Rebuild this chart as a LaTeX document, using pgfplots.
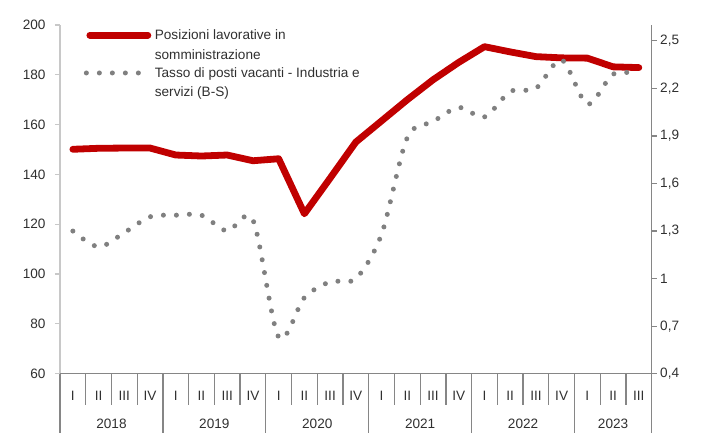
\documentclass[border=0pt]{standalone}
\usepackage{fontspec}
\setmainfont{Liberation Sans}
\usepackage{pgfplots}
\usepackage{pgfplotstable}
\pgfplotsset{compat=1.18}
\definecolor{myred}{HTML}{C00000}
\definecolor{dotgray}{HTML}{808080}
\definecolor{axgray}{HTML}{868686}
\definecolor{lightax}{HTML}{C8C8C8}
\definecolor{txt}{HTML}{303030}
\pgfplotsset{redleg/.style={legend image code/.code={\draw[##1] (3.5pt,10pt) -- (61.5pt,10pt);}}}

\pgfplotstableread{
x val
0 150.1
1 150.5
2 150.6
3 150.6
4 147.8
5 147.4
6 147.8
7 145.5
8 146.3
9 124.2
10 138.5
11 153.0
12 161.5
13 170.0
14 178.0
15 185.0
16 191.3
17 189.2
18 187.3
19 186.8
20 186.7
21 183.2
22 182.9
}\redtab

\pgfplotstableread{
x val
0 1.30
1 1.20
2 1.29
3 1.39
4 1.40
5 1.40
6 1.30
7 1.37
8 0.63
9 0.88
10 0.98
11 1.00
12 1.28
13 1.89
14 1.99
15 2.08
16 2.02
17 2.18
18 2.20
19 2.38
20 2.10
21 2.29
22 2.29
}\graytab

\begin{document}
\begin{tikzpicture}
\tikzset{dotline/.style={dotgray, line width=5pt, line cap=round, dash pattern=on 0pt off 13pt}}
\begin{axis}[
  at={(0pt,0pt)}, anchor=south west,
  scale only axis, width=591.7pt, height=348.7pt,
  xmin=-0.5, xmax=22.5, ymin=60, ymax=200,
  axis x line*=bottom, axis y line*=left,
  x axis line style={-, draw=axgray, line width=1.3pt},
  y axis line style={-, draw=lightax, line width=1.3pt},
  tick align=outside,
  major tick length=5pt,
  minor tick length=31pt,
  ytick={60,80,...,200},
  major y tick style={draw=lightax, line width=1.2pt},
  xtick={0,...,22},
  xticklabels={I,II,III,IV,I,II,III,IV,I,II,III,IV,I,II,III,IV,I,II,III,IV,I,II,III},
  major x tick style={draw=none},
  minor xtick={-0.5,0.5,...,22.5},
  minor x tick style={draw=axgray, line width=1.3pt},
  /pgf/number format/assume math mode=true,
  tick label style={font=\fontsize{13.6}{16}\selectfont, text=txt},
  xticklabel style={yshift=-9pt},
  yticklabel style={xshift=-6pt},
  legend cell align=left,
  legend image code/.code={\draw[#1] (0pt,10pt) -- (65pt,10pt);},
  legend style={at={(axis description cs:0.04,0.99)}, anchor=north west, draw=none, fill=none,
    font=\fontsize{13.6}{19.5}\selectfont, text=txt, row sep=5pt, inner sep=0pt,
    nodes={inner sep=1pt}, cells={align=left}},
]
\addplot[myred, line width=6.8pt, line join=round, line cap=round, no marks, redleg] table[x=x, y=val] {\redtab};
\addlegendentry{Posizioni lavorative in\\somministrazione}
\addlegendimage{dotline}
\addlegendentry{Tasso di posti vacanti - Industria e\\servizi (B-S)}
\end{axis}
\begin{axis}[
  at={(0pt,0pt)}, anchor=south west,
  scale only axis, width=591.7pt, height=348.7pt,
  xmin=-0.5, xmax=22.5, ymin=0.4, ymax=2.6,
  axis x line*=bottom, axis y line*=right,
  x axis line style={-, draw=axgray, line width=1.3pt},
  y axis line style={-, draw=axgray, line width=1.3pt},
  tick align=outside,
  major tick length=5pt,
  minor tick length=60pt,
  ytick={0.4,0.7,1,1.3,1.6,1.9,2.2,2.5},
  major y tick style={draw=axgray, line width=1.2pt},
  yticklabel style={/pgf/number format/.cd, use comma, fixed, precision=1},
  xtick={1.5,5.5,9.5,13.5,17.5,21},
  xticklabels={2018,2019,2020,2021,2022,2023},
  major x tick style={draw=none},
  minor xtick={-0.5,3.5,7.5,11.5,15.5,19.5,22.5},
  minor x tick style={draw=axgray, line width=1.3pt},
  /pgf/number format/assume math mode=true,
  tick label style={font=\fontsize{13.6}{16}\selectfont, text=txt},
  xticklabel style={yshift=-37pt},
]
\addplot[dotline, smooth, tension=0.5, no marks] table[x=x, y=val] {\graytab};
\end{axis}
\pgfresetboundingbox
\path[use as bounding box] (-60pt,-58.3pt) rectangle (642pt,373.7pt);
\end{tikzpicture}
\end{document}
